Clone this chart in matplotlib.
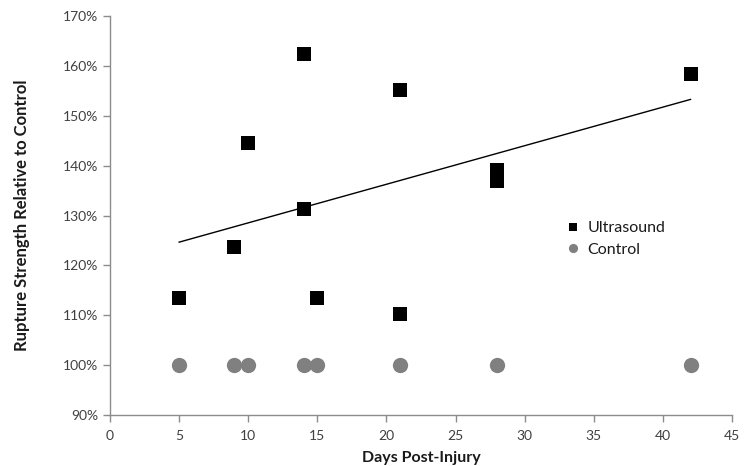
import matplotlib
matplotlib.use("Agg")
import matplotlib.pyplot as plt
import numpy as np
from matplotlib.ticker import FuncFormatter, MultipleLocator

plt.rcParams['font.family'] = ['Lato', 'DejaVu Sans']

us_days = [5, 9, 10, 14, 14, 15, 21, 21, 28, 28, 42]
us_vals = [113.4, 123.6, 144.6, 162.3, 131.4, 113.5, 155.2, 110.2, 139.2, 137.0, 158.4]
ctrl_days = [5, 9, 10, 14, 15, 21, 28, 42]
ctrl_vals = [100, 100, 100, 100, 100, 100, 100, 100]

fig = plt.figure(figsize=(7.5, 4.66), dpi=100)
ax = fig.add_axes([0.1467, 0.1094, 0.976 - 0.1467, 0.9657 - 0.1094])

ax.plot(ctrl_days, ctrl_vals, 'o', color='#808080', markersize=11, markeredgewidth=0,
        label='Control', zorder=3)
ax.plot(us_days, us_vals, 's', color='black', markersize=10.3, markeredgewidth=0,
        label='Ultrasound', zorder=3)

coef = np.polyfit(us_days, us_vals, 1)
xs = np.array([min(us_days), max(us_days)])
ax.plot(xs, np.polyval(coef, xs), color='black', lw=1.0, zorder=2)

ax.set_xlim(0, 45)
ax.set_ylim(90, 170)
ax.xaxis.set_major_locator(MultipleLocator(5))
ax.yaxis.set_major_locator(MultipleLocator(10))
ax.yaxis.set_major_formatter(FuncFormatter(lambda v, p: f"{v:.0f}%"))

for s in ['top', 'right']:
    ax.spines[s].set_visible(False)
for s in ['left', 'bottom']:
    ax.spines[s].set_color('#8c8c8c')
    ax.spines[s].set_linewidth(1.0)
ax.tick_params(axis='both', colors='#8c8c8c', length=5, width=1.0, direction='out',
               labelcolor='#404040', labelsize=10)
ax.tick_params(axis='x', pad=5.5)

ax.set_xlabel('Days Post-Injury', fontsize=11.5, fontweight='bold', color='#1a1a1a', labelpad=7)
ax.set_ylabel('Rupture Strength Relative to Control', fontsize=12, fontweight='bold',
              color='#1a1a1a', labelpad=24)

handles, labels = ax.get_legend_handles_labels()
leg = ax.legend(handles[::-1], labels[::-1], loc='upper left', bbox_to_anchor=(0.709, 0.522),
                frameon=False, fontsize=11.5, markerscale=0.6, handletextpad=0.4,
                handlelength=1.0, labelspacing=0.45)
for t in leg.get_texts():
    t.set_color('#1a1a1a')

fig.savefig('out.png', dpi=100)
